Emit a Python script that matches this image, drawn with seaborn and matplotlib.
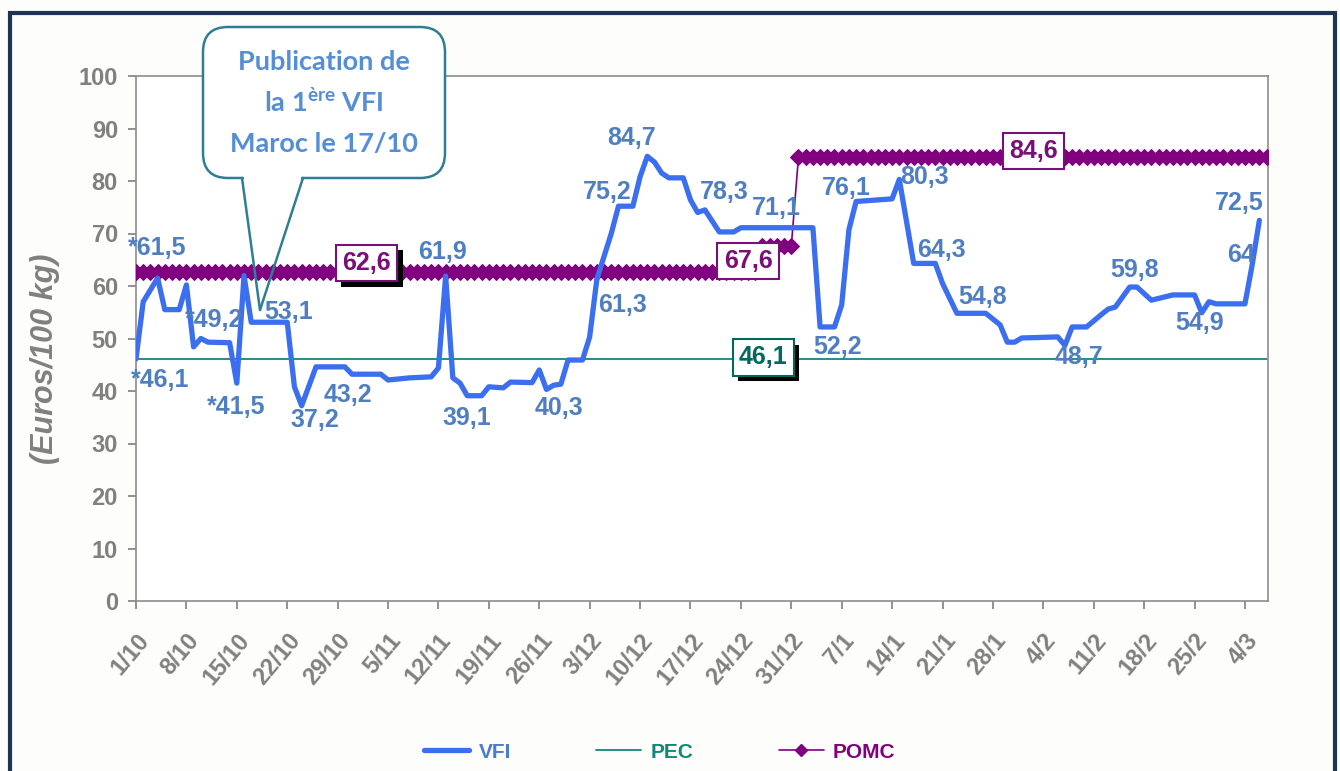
import numpy as np
import pandas as pd
import matplotlib
matplotlib.use("Agg")
import matplotlib.pyplot as plt
import matplotlib.patheffects as pe
import seaborn as sns
from matplotlib.patches import FancyBboxPatch, Polygon, Rectangle
from matplotlib.lines import Line2D

# ---------------- data ----------------
tick_labels = ['1/10', '8/10', '15/10', '22/10', '29/10', '5/11', '12/11', '19/11',
               '26/11', '3/12', '10/12', '17/12', '24/12', '31/12', '7/1', '14/1',
               '21/1', '28/1', '4/2', '11/2', '18/2', '25/2', '4/3']
tick_days = [0, 7, 14, 21, 28, 35, 42, 49, 56, 63, 70, 77, 84, 91, 98, 105,
             112, 119, 126, 133, 140, 147, 154]   # days since 1/10

vfi_days = [0, 1, 3, 4, 6, 7, 8, 9, 10, 13, 14, 15, 16, 21, 22, 23, 25, 29, 30, 34,
            35, 38, 41, 42, 43, 44, 45, 46, 48, 49, 51, 52, 55, 56, 57, 58, 59, 60,
            62, 63, 64, 66, 67, 69, 70, 71, 72, 73, 74, 76, 77, 78, 79, 81, 83, 84,
            94, 95, 97, 98, 99, 100, 105, 106, 108, 111, 112, 114, 118, 120, 121,
            122, 123, 128, 129, 130, 132, 134, 135, 136, 138, 139, 141, 144, 147,
            148, 149, 150, 154, 155, 156]
vfi_values = [46.1, 57.0, 61.5, 55.5, 55.5, 60.2, 48.4, 50.0, 49.3, 49.2, 41.5, 62.0,
              53.1, 53.1, 40.8, 37.2, 44.6, 44.6, 43.2, 43.2, 42.1, 42.5, 42.7, 44.4,
              61.9, 42.5, 41.5, 39.1, 39.1, 40.8, 40.6, 41.7, 41.6, 44.0, 40.3, 41.1,
              41.3, 45.9, 45.9, 50.3, 61.3, 70.0, 75.2, 75.2, 80.8, 84.7, 83.6, 81.5,
              80.6, 80.6, 76.4, 74.0, 74.5, 70.3, 70.3, 71.1, 71.1, 52.2, 52.2, 56.4,
              70.7, 76.1, 76.6, 80.3, 64.3, 64.3, 60.5, 54.8, 54.8, 52.6, 49.3, 49.3,
              50.1, 50.3, 48.7, 52.2, 52.2, 54.5, 55.6, 56.0, 59.8, 59.8, 57.3, 58.3,
              58.3, 54.9, 57.0, 56.6, 56.6, 64.0, 72.5]

pec_value = 46.1

pomc_levels = [62.6, 67.6, 84.6]
pomc_first_day = [0, 87, 92]
pomc_last_day = [86, 91, 157]

point_labels = ['*61,5', '*46,1', '*49,2', '*41,5', '53,1', '37,2', '43,2', '61,9',
                '39,1', '40,3', '61,3', '75,2', '84,7', '78,3', '71,1', '76,1', '52,2',
                '80,3', '64,3', '54,8', '48,7', '59,8', '54,9', '72,5', '64']
box_labels = ['62,6', '67,6', '46,1', '84,6']

# ---------------- layout ----------------
W, H = 1340, 771
point_label_pos = [(2.9, 67.2), (3.3, 42.1), (10.8, 53.5), (13.9, 37.0), (21.2, 55.0),
                   (24.8, 34.5), (29.4, 39.2), (42.6, 66.5), (46.0, 34.9), (58.7, 36.8),
                   (67.5, 56.4), (65.4, 77.9), (68.8, 88.2), (81.7, 77.9), (88.9, 74.9),
                   (98.6, 78.7), (97.4, 48.4), (109.5, 80.8), (111.8, 66.9), (117.5, 57.9),
                   (131.0, 46.5), (138.7, 63.0), (147.7, 53.0), (153.2, 75.8), (153.4, 65.9)]
box_label_pos = [(32.0, 64.4), (85.0, 64.8), (87.1, 46.4), (124.6, 85.7)]
box_colors = ['#7a0f7a', '#7a0f7a', '#00695c', '#7a0f7a']
box_shadow = [True, False, True, False]

VFI_C = '#3c6ff0'
LABEL_C = '#4f7fc0'
PEC_C = '#13877a'
POMC_C = '#800080'
GRAY = '#808080'

sns.set_style('white')
plt.rcParams['font.family'] = ['Liberation Sans', 'DejaVu Sans']
plt.rcParams['mathtext.fontset'] = 'custom'
plt.rcParams['mathtext.rm'] = 'Lato:bold'

fig = plt.figure(figsize=(W / 100, H / 100), dpi=100)
fig.patch.set_facecolor('#fdfdfb')
ax = fig.add_axes([136 / W, 1 - 601 / H, (1268 - 136) / W, (601 - 76) / H])
ax.set_facecolor('white')

# POMC table
pomc_days, pomc_vals = [], []
for lv, a, b in zip(pomc_levels, pomc_first_day, pomc_last_day):
    for d in range(a, b + 1):
        pomc_days.append(d)
        pomc_vals.append(lv)
pomc_df = pd.DataFrame({'day': pomc_days, 'value': pomc_vals})
vfi_df = pd.DataFrame({'day': vfi_days, 'value': vfi_values})

sns.lineplot(data=pomc_df, x='day', y='value', ax=ax, color=POMC_C, lw=1.2,
             marker='D', markersize=8.5, markeredgecolor=POMC_C, markerfacecolor=POMC_C,
             label='POMC', zorder=3)
ax.axhline(pec_value, color=PEC_C, lw=1.3, label='PEC', zorder=2, xmax=157 / 157.2)
sns.lineplot(data=vfi_df, x='day', y='value', ax=ax, color=VFI_C, lw=3.8,
             label='VFI', zorder=4)
if ax.get_legend() is not None:
    ax.get_legend().remove()

ax.set_xlim(0, 157.2)
ax.set_ylim(0, 100)
ax.set_xticks(tick_days)
ax.set_xticklabels(tick_labels, rotation=50, ha='right', rotation_mode='anchor',
                   fontsize=17, fontweight='bold', color=GRAY)
ax.set_yticks(range(0, 101, 10))
ax.set_yticklabels([str(v) for v in range(0, 101, 10)], fontsize=17,
                   fontweight='bold', color=GRAY)
ax.tick_params(axis='both', direction='out', length=6, width=1.2, color=GRAY,
               left=True, bottom=True)
ax.tick_params(axis='y', pad=7)
ax.tick_params(axis='x', pad=14)
for s in ax.spines.values():
    s.set_color('#8c8c8c')
    s.set_linewidth(1.2)
ax.set_xlabel('')
ax.set_ylabel('(Euros/100 kg)', fontsize=22, fontweight='bold', fontstyle='italic',
              color=GRAY)
ax.yaxis.set_label_coords((60 - 136) / 1132, (601 - 359) / 525)
ax.grid(False)

# point labels
for t, (x, y) in zip(point_labels, point_label_pos):
    ax.text(x, y, t, ha='center', va='center', fontsize=18, fontweight='bold',
            color=LABEL_C, zorder=6)

# boxed labels
for t, (x, y), c, sh in zip(box_labels, box_label_pos, box_colors, box_shadow):
    tx = ax.text(x, y, t, ha='center', va='center', fontsize=18, fontweight='bold',
                 color=c, bbox=dict(boxstyle='square,pad=0.25', fc='white', ec=c, lw=1.5),
                 zorder=8)
    if sh:
        tx.get_bbox_patch().set_path_effects([
            pe.SimplePatchShadow(offset=(4, -4), shadow_rgbFace='black', alpha=1.0),
            pe.Normal()])

# legend
handles = [Line2D([0], [0], color=VFI_C, lw=3.8),
           Line2D([0], [0], color=PEC_C, lw=1.3),
           Line2D([0], [0], color=POMC_C, lw=1.2, marker='D', markersize=6)]
leg = fig.legend(handles, ['VFI', 'PEC', 'POMC'], loc='center',
                 bbox_to_anchor=(660 / W, 1 - 752 / H), ncol=3, frameon=False,
                 handlelength=2.15, handletextpad=0.45, columnspacing=4.1,
                 prop={'size': 15, 'weight': 'bold'})
for txt, c in zip(leg.get_texts(), ['#4a7bd0', PEC_C, POMC_C]):
    txt.set_color(c)

# callout
tr = fig.dpi_scale_trans
def P(x, y):
    return (x / 100, (H - y) / 100)

box = FancyBboxPatch(P(203, 178), (445 - 203) / 100, (178 - 27) / 100,
                     boxstyle='round,pad=0,rounding_size=0.25', transform=tr,
                     fc='white', ec='#2f7f94', lw=1.8, zorder=10)
fig.add_artist(box)
# white patch hiding the box edge where the pointer leaves the box
tri = Polygon([P(243.5, 175), P(244.3, 182), P(300.5, 182), P(301.5, 175)],
              closed=True, transform=tr, fc='white', ec='none', zorder=11)
fig.add_artist(tri)
for a, b in [((242, 178), (260, 310)), ((260, 310), (303, 178))]:
    pa, pb = P(*a), P(*b)
    fig.add_artist(Line2D([pa[0], pb[0]], [pa[1], pb[1]], transform=tr,
                          color='#2f7f94', lw=1.8, zorder=12))
call_c = '#558ed5'
for txt, y in [('Publication de', 62), ('la 1$^{\\mathrm{ère}}$ VFI', 102),
               ('Maroc le 17/10', 144)]:
    fig.text(324 / W, 1 - y / H, txt, ha='center', va='center', fontsize=19.5,
             fontweight='bold', family=['Lato', 'DejaVu Sans'], color=call_c, zorder=13)

# figure frame
fig.add_artist(Rectangle((10 / W, -0.1), (1335 - 10) / W, 1 - 13 / H + 0.1,
                         transform=fig.transFigure, fill=False, ec='#1d3552', lw=3,
                         zorder=20, clip_on=False))

fig.savefig('out.png', dpi=100, facecolor=fig.get_facecolor())
